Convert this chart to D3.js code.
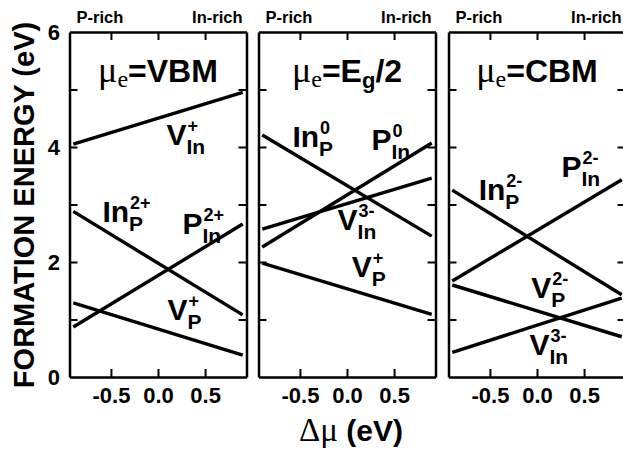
<!DOCTYPE html>
<html>
<head>
<meta charset="utf-8">
<script src="https://cdn.jsdelivr.net/npm/d3@7/dist/d3.min.js"></script>
<style>
  body { margin: 0; background: #fff; }
  text { font-family: "Liberation Sans", Arial, sans-serif; font-weight: bold; fill: #000; }
  .serif { font-family: "Liberation Serif", "Times New Roman", serif; font-weight: normal; }
</style>
</head>
<body>
<div id="chart"></div>
<script>
// chemical potential range of every line (eV)
var muRange = [-0.9, 0.9];
var xTicks = [-0.5, 0.0, 0.5];
var yTicks = [1, 2, 3, 4, 5];
var yLabels = [0, 2, 4, 6];

// the three electron chemical potentials
var panelNames = ["VBM", "Eg/2", "CBM"];

// formation energy (eV) at the P-rich end and the In-rich end
var defectsVBM = ["V_In+", "In_P2+", "P_In2+", "V_P+"];
var startVBM = [4.05, 2.88, 0.87, 1.29];
var endVBM = [4.95, 1.08, 2.66, 0.38];

var defectsMid = ["In_P0", "P_In0", "V_In3-", "V_P+"];
var startMid = [4.21, 2.26, 2.57, 1.98];
var endMid = [2.45, 4.07, 3.46, 1.09];

var defectsCBM = ["In_P2-", "P_In2-", "V_P2-", "V_In3-"];
var startCBM = [3.25, 1.67, 1.60, 0.43];
var endCBM = [1.43, 3.43, 0.70, 1.37];

// label text pieces: main letter, subscript, superscript
var labelParts = {
  "V_In+": ["V", "In", "+"], "In_P2+": ["In", "P", "2+"], "P_In2+": ["P", "In", "2+"], "V_P+": ["V", "P", "+"],
  "In_P0": ["In", "P", "0"], "P_In0": ["P", "In", "0"], "V_In3-": ["V", "In", "3-"],
  "In_P2-": ["In", "P", "2-"], "P_In2-": ["P", "In", "2-"], "V_P2-": ["V", "P", "2-"]
};

var svgWidth = 623, svgHeight = 451;
var margin = {top: 32, bottom: 74};
var plotH = svgHeight - margin.top - margin.bottom;
var panelW = 177;
var panelLeft = [69.5, 258.5, 448.5];

// where each label sits, in data units (mu, energy)
var labelPos = [
  [[0.09, 4.03], [-0.59, 2.70], [0.26, 2.49], [0.10, 0.99]],
  [[-0.58, 4.00], [0.26, 3.95], [-0.10, 2.56], [0.05, 1.74]],
  [[-0.62, 3.08], [0.26, 3.48], [-0.06, 1.37], [-0.08, 0.38]]
];

var panels = [
  {defects: defectsVBM, start: startVBM, end: endVBM},
  {defects: defectsMid, start: startMid, end: endMid},
  {defects: defectsCBM, start: startCBM, end: endCBM}
];

var svg = d3.select("#chart").append("svg")
  .attr("width", svgWidth)
  .attr("height", svgHeight);

var yScale = d3.scaleLinear().domain([0, 6]).range([margin.top + plotH, margin.top]);

panels.forEach(function(p, i) {
  var xScale = d3.scaleLinear().domain([-0.94, 0.94]).range([panelLeft[i], panelLeft[i] + panelW]);
  var g = svg.append("g");

  // frame and inward ticks on all four sides
  var axes = [
    [d3.axisBottom(xScale).tickValues(xTicks), "translate(0," + yScale(0) + ")"],
    [d3.axisTop(xScale).tickValues(xTicks), "translate(0," + yScale(6) + ")"],
    [d3.axisLeft(yScale).tickValues(yTicks), "translate(" + xScale.range()[0] + ",0)"],
    [d3.axisRight(yScale).tickValues(yTicks), "translate(" + xScale.range()[1] + ",0)"]
  ];
  axes.forEach(function(a, k) {
    var ax = g.append("g")
      .attr("transform", a[1])
      .call(a[0].tickSizeInner(-8).tickSizeOuter(0).tickFormat(k == 0 ? function(d) { return d.toFixed(1); } : ""));
    ax.select(".domain").attr("stroke-width", 2.5).attr("stroke", "#000");
    ax.selectAll(".tick line").attr("stroke-width", 2).attr("stroke", "#000");
    ax.selectAll(".tick text")
      .attr("font-size", 22)
      .attr("font-family", null)
      .attr("dy", "1.05em");
  });

  // formation energy lines
  var line = d3.line().x(d => xScale(d[0])).y(d => yScale(d[1]));
  g.selectAll("path.defect")
    .data(p.defects)
    .enter()
    .append("path")
    .attr("class", "defect")
    .attr("d", (d, j) => line([[muRange[0], p.start[j]], [muRange[1], p.end[j]]]))
    .attr("fill", "none")
    .attr("stroke", "#000")
    .attr("stroke-width", 3.4);

  // defect labels with sub- and superscripts
  p.defects.forEach(function(name, j) {
    var parts = labelParts[name];
    var lx = xScale(labelPos[i][j][0]), ly = yScale(labelPos[i][j][1]);
    var main = g.append("text").attr("x", lx).attr("y", ly).attr("font-size", 30).text(parts[0]);
    var w = main.node().getComputedTextLength();
    g.append("text").attr("x", lx + w).attr("y", ly + 9).attr("font-size", 21).text(parts[1]);
    g.append("text").attr("x", lx + w + 1).attr("y", ly - 13).attr("font-size", 18).text(parts[2]);
  });

  // P-rich / In-rich
  g.append("text").attr("x", xScale.range()[0] + 7).attr("y", 23).attr("font-size", 16.5).text("P-rich");
  g.append("text").attr("x", xScale.range()[1] - 4).attr("y", 23).attr("font-size", 16.5)
    .attr("text-anchor", "end").text("In-rich");

  // panel title: mu_e = ...
  var t = g.append("text").attr("x", xScale(0)).attr("y", 82).attr("text-anchor", "middle");
  t.append("tspan").attr("class", "serif").attr("font-size", 36).text("\u03bc");
  t.append("tspan").attr("class", "serif").attr("font-weight", "bold").attr("font-size", 24).attr("dy", 5).text("e");
  if (panelNames[i] == "Eg/2") {
    t.append("tspan").attr("font-size", 32).attr("dy", -5).text("=E");
    t.append("tspan").attr("font-size", 22).attr("dy", 6).text("g");
    t.append("tspan").attr("font-size", 32).attr("dy", -6).text("/2");
  } else {
    t.append("tspan").attr("font-size", 32).attr("dy", -5).text("=" + panelNames[i]);
  }
});

// y tick labels on the first panel
svg.selectAll("text.ylab")
  .data(yLabels)
  .enter()
  .append("text")
  .attr("class", "ylab")
  .attr("x", 60)
  .attr("y", d => yScale(d) + 8)
  .attr("text-anchor", "end")
  .attr("font-size", 22)
  .text(d => d);

// axis titles
svg.append("text")
  .attr("transform", "translate(34," + 205 + ") rotate(-90)")
  .attr("text-anchor", "middle")
  .attr("font-size", 29)
  .text("FORMATION ENERGY (eV)");

var xt = svg.append("text").attr("x", 351).attr("y", 441).attr("text-anchor", "middle");
xt.append("tspan").attr("class", "serif").attr("font-size", 33).text("\u0394\u03bc ");
xt.append("tspan").attr("font-size", 30).text("(eV)");
</script>
</body>
</html>
